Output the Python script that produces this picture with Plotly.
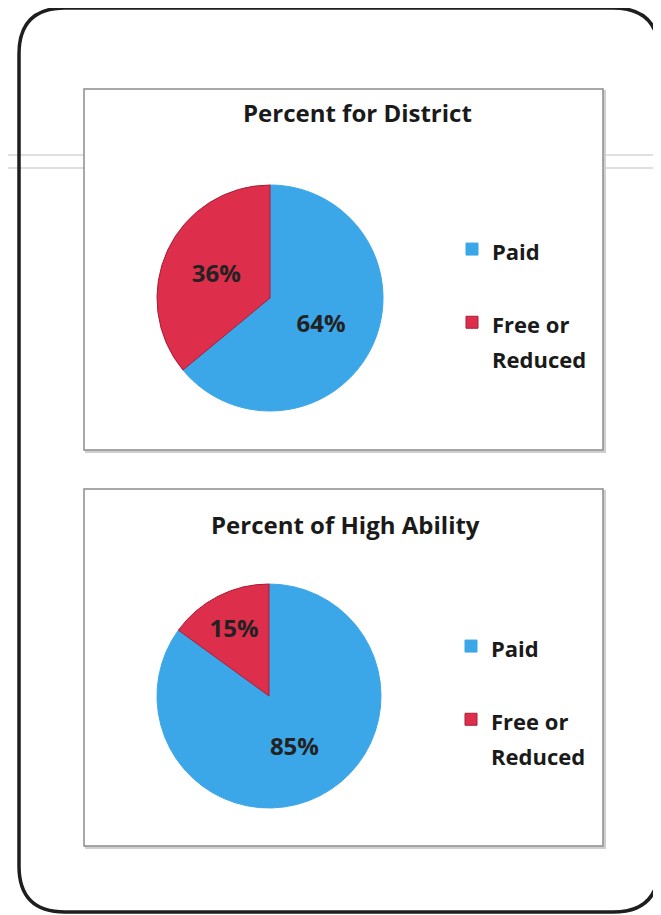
import plotly.graph_objects as go

PAGE_W, PAGE_H = 661, 915
OFF = 8  # page body margin of the browser
W, H = PAGE_W - OFF, PAGE_H - OFF  # figure fits the window without scrollbars

# ---- data ----
labels_district = ["Paid", "Free or<br>Reduced"]
labels_high = ["Paid", "Free or<br>Reduced"]
district_values = [64, 36]
high_ability_values = [85, 15]
titles = ["Percent for District", "Percent of High Ability"]
colors = ["#3BA7E8", "#DD2E4C"]
edge_colors = ["#3BA7E8", "#A81E36"]

FONT = "Open Sans"


def fx(x):
    return (x - OFF) / W


def fy(y):
    return 1 - (y - OFF) / H


def rounded_path(x0, y0, x1, y1, r):
    def P(x, y):
        return f"{fx(x):.5f},{fy(y):.5f}"
    return (f"M {P(x0 + r, y0)} L {P(x1 - r, y0)} Q {P(x1, y0)} {P(x1, y0 + r)} "
            f"L {P(x1, y1 - r)} Q {P(x1, y1)} {P(x1 - r, y1)} "
            f"L {P(x0 + r, y1)} Q {P(x0, y1)} {P(x0, y1 - r)} "
            f"L {P(x0, y0 + r)} Q {P(x0, y0)} {P(x0 + r, y0)} Z")


def leg_label(text, pad_lines, suffix=""):
    # visible text in a 22px span; the legend font sets line height / entry gap
    lines = [f"<span style='font-size:22px'>{t}</span>" for t in text.split("<br>")]
    return "<br>".join(lines) + "<br> " * pad_lines + suffix


fig = go.Figure()

pie_boxes = [
    dict(values=district_values, labels=labels_district, cx=270, cy=298, r=113,
         legend="legend", suffix=""),
    dict(values=high_ability_values, labels=labels_high, cx=269, cy=696, r=112,
         legend="legend2", suffix=" "),
]

for pb in pie_boxes:
    leg_labels = [leg_label(pb["labels"][0], 1, pb["suffix"]),
                  leg_label(pb["labels"][1], 0, pb["suffix"])]
    dom = dict(x=[fx(pb["cx"] - pb["r"]), fx(pb["cx"] + pb["r"])],
               y=[fy(pb["cy"] + pb["r"]), fy(pb["cy"] - pb["r"])])
    fig.add_trace(go.Pie(
        labels=leg_labels, values=pb["values"], sort=False,
        direction="clockwise", rotation=0,
        marker=dict(colors=colors, line=dict(color=edge_colors, width=1)),
        textinfo="percent", textposition="inside",
        insidetextorientation="horizontal",
        textfont=dict(family=FONT, size=24, color="#222222", weight="bold"),
        domain=dom, legend=pb["legend"],
        hoverinfo="percent",
    ))

shapes = []
# scanned horizontal rules
for yy in (155, 168):
    shapes.append(dict(type="line", xref="paper", yref="paper",
                       x0=fx(8), x1=fx(84), y0=fy(yy), y1=fy(yy),
                       line=dict(color="#D5D5D5", width=1.5), layer="below"))
    shapes.append(dict(type="line", xref="paper", yref="paper",
                       x0=fx(604), x1=fx(661), y0=fy(yy), y1=fy(yy),
                       line=dict(color="#D5D5D5", width=1.5), layer="below"))
# outer rounded frame
shapes.append(dict(type="path", xref="paper", yref="paper",
                   path=rounded_path(19, 8, 659, 912, 46),
                   line=dict(color="#1E1E1E", width=3.5), layer="below"))
# chart boxes with subtle shadow
for (x0, y0, x1, y1) in [(84, 89, 603, 450), (84, 489, 603, 846)]:
    shapes.append(dict(type="rect", xref="paper", yref="paper",
                       x0=fx(x0 + 2), x1=fx(x1 + 2), y0=fy(y1 + 2), y1=fy(y0 + 2),
                       line=dict(color="#CFCFCF", width=2), fillcolor="#DDDDDD", layer="below"))
    shapes.append(dict(type="rect", xref="paper", yref="paper",
                       x0=fx(x0), x1=fx(x1), y0=fy(y1), y1=fy(y0),
                       line=dict(color="#8C8C8C", width=1.5), fillcolor="#FFFFFF", layer="below"))

title_font = dict(family=FONT, size=24, color="#1A1A1A", weight="bold")
annotations = [
    dict(text=titles[0], x=fx(357), y=fy(112), xref="paper", yref="paper",
         xanchor="center", yanchor="middle", showarrow=False, font=title_font),
    dict(text=titles[1], x=fx(345), y=fy(524), xref="paper", yref="paper",
         xanchor="center", yanchor="middle", showarrow=False, font=title_font),
]

legend_style = dict(
    font=dict(family=FONT, size=27, color="#1A1A1A", weight="bold"),
    bgcolor="rgba(0,0,0,0)", valign="top", xanchor="left", yanchor="top",
    tracegroupgap=0, itemclick=False,
)

fig.update_layout(
    width=W, height=H,
    margin=dict(l=0, r=0, t=0, b=0),
    paper_bgcolor="#FFFFFF",
    plot_bgcolor="#FFFFFF",
    shapes=shapes,
    annotations=annotations,
    legend=dict(x=fx(452), y=fy(225), **legend_style),
    legend2=dict(x=fx(451), y=fy(622), **legend_style),
)

fig.write_html("out.html")
